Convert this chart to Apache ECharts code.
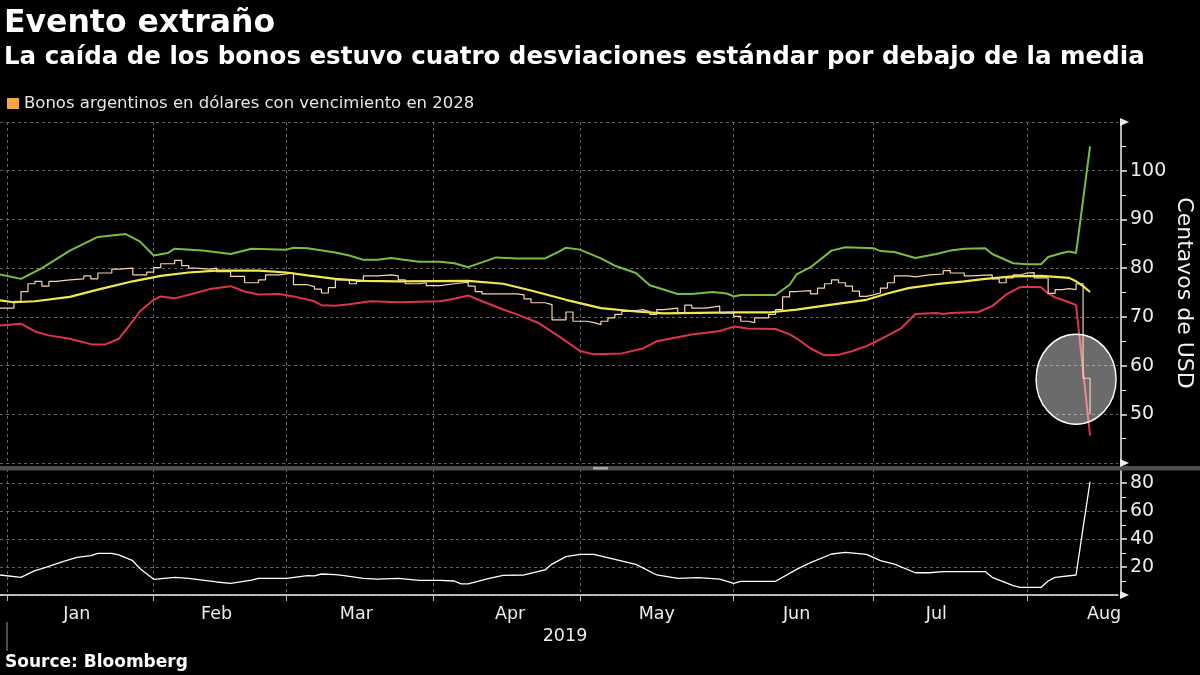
<!DOCTYPE html>
<html>
<head>
<meta charset="utf-8">
<script src="https://cdn.jsdelivr.net/npm/echarts@6/dist/echarts.min.js"></script>
<style>
html,body{margin:0;padding:0;background:#000;}
#chart{width:1200px;height:675px;}
</style>
</head>
<body>
<div id="chart"></div>
<script>
// ---------- DATA ----------
const titleText = 'Evento extraño';
const subtitleText = 'La caída de los bonos estuvo cuatro desviaciones estándar por debajo de la media';
const sourceText = 'Source: Bloomberg';
const priceName = 'Bonos argentinos en dólares con vencimiento en 2028';
const yAxisTitle = 'Centavos de USD';
const yearLabel = '2019';

// trading-day calendar (weekdays minus market holidays)
const calendarStart = '2018-12-31';
const calendarEnd = '2019-08-20';
const holidays = ['2019-01-01','2019-01-21','2019-02-18','2019-04-19','2019-05-27','2019-07-04'];
const monthLabelDates = ['2019-01-16','2019-02-14','2019-03-15','2019-04-16','2019-05-16','2019-06-14','2019-07-15','2019-08-16'];
const monthNames = ['Jan','Feb','Mar','Apr','May','Jun','Jul','Aug'];

const topTicks = {min: 40, max: 110, interval: 10};
const bottomTicks = {min: 0, max: 90, interval: 20};

// bond price (step line)
const price = [
 ['2018-12-31',71.8],['2019-01-03',73.2],['2019-01-04',75.2],['2019-01-07',76.8],['2019-01-08',77.3],
 ['2019-01-09',76.3],['2019-01-10',77.3],['2019-01-11',77.6],['2019-01-15',77.8],['2019-01-17',78.4],
 ['2019-01-18',77.8],['2019-01-22',79.0],['2019-01-24',79.8],['2019-01-25',80.0],['2019-01-29',78.6],
 ['2019-01-31',79.2],['2019-02-01',80.1],['2019-02-04',80.9],['2019-02-06',81.6],['2019-02-07',80.5],
 ['2019-02-08',80.0],['2019-02-11',79.8],['2019-02-13',80.0],['2019-02-14',79.3],['2019-02-19',78.3],
 ['2019-02-21',77.0],['2019-02-25',77.6],['2019-02-26',78.6],['2019-02-28',79.0],['2019-03-04',76.6],
 ['2019-03-06',76.2],['2019-03-07',75.7],['2019-03-08',74.9],['2019-03-11',76.0],['2019-03-12',77.6],
 ['2019-03-14',76.8],['2019-03-15',77.3],['2019-03-18',78.4],['2019-03-20',78.6],['2019-03-22',78.4],
 ['2019-03-25',77.6],['2019-03-26',76.8],['2019-03-28',77.0],['2019-03-29',76.4],['2019-04-02',76.8],
 ['2019-04-04',77.1],['2019-04-08',76.3],['2019-04-09',75.2],['2019-04-10',74.7],['2019-04-17',74.5],
 ['2019-04-18',73.7],['2019-04-22',72.9],['2019-04-24',72.5],['2019-04-25',69.4],['2019-04-29',71.0],
 ['2019-04-30',69.1],['2019-05-02',68.8],['2019-05-03',68.4],['2019-05-06',69.1],['2019-05-07',69.8],
 ['2019-05-08',70.5],['2019-05-09',71.1],['2019-05-10',71.5],['2019-05-14',71.1],['2019-05-15',70.5],
 ['2019-05-16',71.5],['2019-05-17',71.8],['2019-05-21',70.8],['2019-05-22',72.4],['2019-05-23',71.8],
 ['2019-05-28',72.2],['2019-05-30',70.8],['2019-06-03',70.1],['2019-06-04',69.1],['2019-06-05',68.8],
 ['2019-06-06',69.8],['2019-06-10',70.5],['2019-06-11',71.5],['2019-06-12',74.1],['2019-06-13',75.2],
 ['2019-06-14',75.4],['2019-06-18',74.7],['2019-06-19',75.9],['2019-06-20',76.8],['2019-06-21',77.6],
 ['2019-06-24',77.0],['2019-06-25',76.3],['2019-06-26',75.3],['2019-06-27',74.2],['2019-06-28',74.5],
 ['2019-07-01',74.9],['2019-07-02',75.9],['2019-07-03',77.0],['2019-07-05',78.4],['2019-07-09',78.2],
 ['2019-07-10',78.6],['2019-07-12',78.8],['2019-07-16',79.5],['2019-07-17',79.0],['2019-07-19',78.4],
 ['2019-07-22',78.6],['2019-07-25',77.8],['2019-07-26',77.0],['2019-07-29',78.0],['2019-07-30',78.6],
 ['2019-07-31',79.0],['2019-08-01',79.1],['2019-08-02',78.0],['2019-08-06',74.8],['2019-08-07',75.6],
 ['2019-08-08',75.8],['2019-08-09',75.6],['2019-08-12',76.8],['2019-08-13',57.4],['2019-08-14',50.0]
];

// moving average
const movingAvg = [
 ['2018-12-31',73.4],['2019-01-03',73.0],['2019-01-08',73.2],['2019-01-15',74.1],['2019-01-22',75.6],
 ['2019-01-29',77.3],['2019-02-04',78.4],['2019-02-08',79.1],['2019-02-14',79.5],['2019-02-25',79.5],
 ['2019-03-01',79.1],['2019-03-06',78.5],['2019-03-12',77.8],['2019-03-18',77.4],['2019-03-25',77.3],
 ['2019-04-08',77.4],['2019-04-15',76.8],['2019-04-22',75.4],['2019-04-29',73.5],['2019-05-06',71.8],
 ['2019-05-13',71.1],['2019-05-17',70.7],['2019-05-24',70.8],['2019-06-03',70.9],['2019-06-10',70.9],
 ['2019-06-14',71.5],['2019-06-21',72.5],['2019-06-28',73.5],['2019-07-03',74.8],['2019-07-09',75.9],
 ['2019-07-15',76.7],['2019-07-19',77.3],['2019-07-24',77.8],['2019-07-30',78.3],['2019-08-05',78.4],
 ['2019-08-09',78.0],['2019-08-12',77.3],['2019-08-13',76.3],['2019-08-14',75.1]
];

// upper band
const upperBand = [
 ['2018-12-31',78.7],['2019-01-04',77.8],['2019-01-09',80.0],['2019-01-15',83.6],['2019-01-22',86.4],
 ['2019-01-28',87.0],['2019-01-30',85.5],['2019-02-01',82.6],['2019-02-05',83.1],['2019-02-06',84.0],
 ['2019-02-12',83.6],['2019-02-19',82.9],['2019-02-22',84.0],['2019-03-01',83.8],['2019-03-04',84.2],
 ['2019-03-06',84.1],['2019-03-12',83.2],['2019-03-14',82.6],['2019-03-18',81.7],['2019-03-20',81.7],
 ['2019-03-22',82.1],['2019-03-25',81.9],['2019-03-28',81.3],['2019-04-02',81.3],['2019-04-04',81.0],
 ['2019-04-08',80.2],['2019-04-11',81.7],['2019-04-12',82.2],['2019-04-17',82.0],['2019-04-24',82.0],
 ['2019-04-26',83.4],['2019-04-29',84.2],['2019-05-01',83.8],['2019-05-06',82.0],['2019-05-08',80.5],
 ['2019-05-13',79.0],['2019-05-15',76.5],['2019-05-21',74.7],['2019-05-23',74.7],['2019-05-29',75.1],
 ['2019-05-31',74.8],['2019-06-03',74.2],['2019-06-04',74.5],['2019-06-11',74.5],['2019-06-13',76.6],
 ['2019-06-14',78.7],['2019-06-18',80.2],['2019-06-21',83.6],['2019-06-25',84.3],['2019-07-01',84.1],
 ['2019-07-02',83.5],['2019-07-05',83.3],['2019-07-10',82.1],['2019-07-15',82.9],['2019-07-17',83.6],
 ['2019-07-19',84.0],['2019-07-24',84.1],['2019-07-25',82.9],['2019-07-30',81.0],['2019-08-01',80.8],
 ['2019-08-05',80.8],['2019-08-06',82.3],['2019-08-08',83.1],['2019-08-09',83.4],['2019-08-12',83.1],
 ['2019-08-13',94.0],['2019-08-14',105.0]
];

// lower band
const lowerBand = [
 ['2018-12-31',68.2],['2019-01-04',68.6],['2019-01-08',67.0],['2019-01-10',66.2],['2019-01-15',65.5],
 ['2019-01-18',64.4],['2019-01-23',64.3],['2019-01-25',65.5],['2019-01-29',69.1],['2019-01-30',71.1],
 ['2019-02-01',73.5],['2019-02-04',74.2],['2019-02-06',73.8],['2019-02-11',74.9],['2019-02-13',75.7],
 ['2019-02-19',76.3],['2019-02-21',75.2],['2019-02-25',74.6],['2019-02-28',74.7],['2019-03-04',74.2],
 ['2019-03-07',73.2],['2019-03-08',72.4],['2019-03-12',72.3],['2019-03-14',72.6],['2019-03-19',73.2],
 ['2019-03-25',73.0],['2019-04-02',73.2],['2019-04-04',73.7],['2019-04-08',74.4],['2019-04-10',73.2],
 ['2019-04-15',71.5],['2019-04-17',70.5],['2019-04-23',68.8],['2019-04-26',66.0],['2019-05-01',63.0],
 ['2019-05-03',62.3],['2019-05-09',62.5],['2019-05-14',63.5],['2019-05-16',65.0],['2019-05-23',66.4],
 ['2019-05-30',67.1],['2019-06-03',68.0],['2019-06-05',67.6],['2019-06-11',67.5],['2019-06-13',66.4],
 ['2019-06-14',65.6],['2019-06-18',63.5],['2019-06-20',62.1],['2019-06-24',62.2],['2019-06-26',63.0],
 ['2019-06-28',64.0],['2019-07-02',65.4],['2019-07-08',67.7],['2019-07-10',70.6],['2019-07-15',70.8],
 ['2019-07-16',70.6],['2019-07-17',70.8],['2019-07-23',71.0],['2019-07-25',72.2],['2019-07-29',74.6],
 ['2019-07-31',76.1],['2019-08-01',76.2],['2019-08-05',76.1],['2019-08-06',74.8],['2019-08-07',74.0],
 ['2019-08-08',73.5],['2019-08-09',73.0],['2019-08-12',72.4],['2019-08-13',59.0],['2019-08-14',45.6]
];

// lower panel indicator
const lowerPanel = [
 ['2018-12-31',14.3],['2019-01-04',12.6],['2019-01-08',17.4],['2019-01-09',18.8],['2019-01-14',23.8],
 ['2019-01-16',26.9],['2019-01-18',28.1],['2019-01-22',29.8],['2019-01-24',29.8],['2019-01-25',28.6],
 ['2019-01-29',24.5],['2019-01-30',19.0],['2019-02-01',11.2],['2019-02-06',12.6],['2019-02-08',11.9],
 ['2019-02-14',9.3],['2019-02-19',8.3],['2019-02-22',10.7],['2019-02-25',11.9],['2019-03-01',11.9],
 ['2019-03-06',13.8],['2019-03-07',13.6],['2019-03-08',15.0],['2019-03-12',14.5],['2019-03-13',14.0],
 ['2019-03-18',11.9],['2019-03-20',11.4],['2019-03-25',11.9],['2019-03-28',10.5],['2019-04-02',10.5],
 ['2019-04-04',10.0],['2019-04-05',7.9],['2019-04-08',7.9],['2019-04-11',11.9],['2019-04-15',14.0],
 ['2019-04-18',14.3],['2019-04-24',17.9],['2019-04-25',22.1],['2019-04-29',27.4],['2019-05-01',29.0],
 ['2019-05-03',29.0],['2019-05-08',25.5],['2019-05-13',21.9],['2019-05-16',14.3],['2019-05-21',11.9],
 ['2019-05-24',12.4],['2019-05-30',11.4],['2019-06-03',8.3],['2019-06-04',9.8],['2019-06-11',9.8],
 ['2019-06-14',18.3],['2019-06-18',23.1],['2019-06-21',29.3],['2019-06-25',30.5],['2019-06-28',29.0],
 ['2019-07-02',24.5],['2019-07-05',22.1],['2019-07-10',15.9],['2019-07-12',15.9],['2019-07-16',16.7],
 ['2019-07-24',16.7],['2019-07-25',12.6],['2019-07-30',6.7],['2019-07-31',5.5],['2019-08-05',5.5],
 ['2019-08-06',10.0],['2019-08-07',12.6],['2019-08-12',14.3],['2019-08-13',48.0],['2019-08-14',80.9]
];

// highlighted event (circle)
const highlight = {date: '2019-08-12', value: 57.2};

// ---------- build categories ----------
const categories = [];
(function () {
  let t = Date.parse(calendarStart + 'T00:00:00Z');
  const end = Date.parse(calendarEnd + 'T00:00:00Z');
  while (t <= end) {
    const d = new Date(t);
    const wd = d.getUTCDay();
    const s = d.toISOString().slice(0, 10);
    if (wd !== 0 && wd !== 6 && holidays.indexOf(s) < 0) categories.push(s);
    t += 86400000;
  }
})();
function isMonthStart(idx) {
  if (idx === 0) return false;
  return categories[idx].slice(5, 7) !== categories[idx - 1].slice(5, 7);
}
function isMonthLabel(idx, value) { return monthLabelDates.indexOf(value) >= 0; }
function monthName(value) { return monthNames[parseInt(value.slice(5, 7), 10) - 1]; }

// ---------- chart ----------
const FONT = '"DejaVu Sans", "Liberation Sans", sans-serif';
const gridColor = '#646464';
const chart = echarts.init(document.getElementById('chart'), null, {renderer: 'canvas'});

const option = {
  backgroundColor: '#000',
  animation: false,
  legend: {
    data: [priceName],
    left: 7, top: 95, padding: 0,
    icon: 'rect', itemWidth: 12, itemHeight: 11, itemGap: 10,
    textStyle: {color: '#e6e6e6', fontSize: 16.5, fontFamily: FONT},
    selectedMode: false
  },
  grid: [
    {left: 0, right: 82, top: 122, height: 341},
    {left: 0, right: 82, top: 469, height: 126}
  ],
  xAxis: [
    {
      type: 'category', gridIndex: 0, data: categories, boundaryGap: false,
      axisLine: {show: false}, axisTick: {show: false}, axisLabel: {show: false},
      splitLine: {show: true, interval: isMonthStart, lineStyle: {color: gridColor, type: [3, 3], width: 1}}
    },
    {
      type: 'category', gridIndex: 1, data: categories, boundaryGap: false, offset: 4,
      axisLine: {show: true, lineStyle: {color: '#f0f0f0', width: 1.5}},
      axisTick: {show: true, interval: isMonthStart, length: 6, lineStyle: {color: '#bbbbbb', width: 1}},
      axisLabel: {show: true, interval: isMonthLabel, formatter: monthName, color: '#ececec',
        fontSize: 17.5, fontFamily: FONT, margin: 6},
      splitLine: {show: true, interval: isMonthStart, lineStyle: {color: gridColor, type: [3, 3], width: 1}}
    }
  ],
  yAxis: [
    {
      type: 'value', gridIndex: 0, position: 'right', offset: 3,
      min: topTicks.min, max: topTicks.max, interval: topTicks.interval,
      axisLine: {show: true, lineStyle: {color: '#f0f0f0', width: 1.5}},
      axisTick: {show: true, length: 6, lineStyle: {color: '#f0f0f0', width: 1.5}},
      minorTick: {show: true, splitNumber: 2, length: 5, lineStyle: {color: '#f0f0f0', width: 1}},
      axisLabel: {show: true, showMinLabel: false, showMaxLabel: false, color: '#ececec',
        fontSize: 19, fontFamily: FONT, margin: 9},
      splitLine: {show: true, lineStyle: {color: gridColor, type: [3, 3], width: 1}}
    },
    {
      type: 'value', gridIndex: 1, position: 'right', offset: 3,
      min: bottomTicks.min, max: bottomTicks.max, interval: bottomTicks.interval,
      axisLine: {show: true, lineStyle: {color: '#f0f0f0', width: 1.5}},
      axisTick: {show: true, length: 6, lineStyle: {color: '#f0f0f0', width: 1.5}},
      minorTick: {show: true, splitNumber: 2, length: 5, lineStyle: {color: '#f0f0f0', width: 1}},
      axisLabel: {show: true, showMinLabel: false, showMaxLabel: false, color: '#ececec',
        fontSize: 19, fontFamily: FONT, margin: 9},
      splitLine: {show: true, lineStyle: {color: gridColor, type: [3, 3], width: 1}}
    }
  ],
  series: [
    {
      name: 'Banda superior', type: 'line', xAxisIndex: 0, yAxisIndex: 0, data: upperBand,
      showSymbol: false, z: 2, lineStyle: {color: '#78bf3f', width: 2}, itemStyle: {color: '#78bf3f'}
    },
    {
      name: 'Banda inferior', type: 'line', xAxisIndex: 0, yAxisIndex: 0, data: lowerBand,
      showSymbol: false, z: 2, lineStyle: {color: '#e0344c', width: 2}, itemStyle: {color: '#e0344c'},
      markPoint: {
        z: 5, silent: true, symbol: 'circle', symbolSize: [80, 90],
        label: {show: false},
        itemStyle: {color: 'rgba(255,255,255,0.42)', borderColor: '#ffffff', borderWidth: 1.5},
        data: [{coord: [highlight.date, highlight.value]}]
      }
    },
    {
      name: 'Media móvil', type: 'line', xAxisIndex: 0, yAxisIndex: 0, data: movingAvg,
      showSymbol: false, z: 3, lineStyle: {color: '#f1e84c', width: 2.2}, itemStyle: {color: '#f1e84c'}
    },
    {
      name: priceName, type: 'line', xAxisIndex: 0, yAxisIndex: 0, data: price, step: 'end',
      showSymbol: false, z: 6, lineStyle: {color: '#f5d4ae', width: 1.2}, itemStyle: {color: '#f7a540'}
    },
    {
      name: 'Indicador', type: 'line', xAxisIndex: 1, yAxisIndex: 1, data: lowerPanel,
      showSymbol: false, z: 2, lineStyle: {color: '#ffffff', width: 1.3}, itemStyle: {color: '#ffffff'}
    }
  ],
  graphic: [
    {type: 'text', x: 4, y: 24, z: 100, style: {text: titleText, fill: '#ffffff',
      font: 'bold 31.5px ' + FONT, align: 'left', verticalAlign: 'middle'}},
    {type: 'text', x: 4, y: 58, z: 100, style: {text: subtitleText, fill: '#ffffff',
      font: 'bold 24.5px ' + FONT, align: 'left', verticalAlign: 'middle'}},
    {type: 'text', x: 5, y: 663, z: 100, style: {text: sourceText, fill: '#ffffff',
      font: 'bold 17px ' + FONT, align: 'left', verticalAlign: 'middle'}},
    {type: 'text', x: 565, y: 636, z: 100, style: {text: yearLabel, fill: '#ececec',
      font: '17.5px ' + FONT, align: 'center', verticalAlign: 'middle'}},
    {type: 'text', x: 1184, y: 293, rotation: -Math.PI / 2, z: 100, style: {text: yAxisTitle, fill: '#f2f2f2',
      font: '22px ' + FONT, align: 'center', verticalAlign: 'middle'}},
    {type: 'line', z: 100, shape: {x1: 7, y1: 622, x2: 7, y2: 651}, style: {stroke: '#9a9a9a', lineWidth: 1}},
    {type: 'rect', z: 100, shape: {x: 0, y: 466, width: 1200, height: 4.5}, style: {fill: '#4e4e4e'}},
    {type: 'rect', z: 101, shape: {x: 593, y: 467, width: 15, height: 2.5}, style: {fill: '#a8a8a8'}},
    {type: 'polygon', z: 100, shape: {points: [[1120, 118], [1129, 122], [1120, 126]]}, style: {fill: '#f0f0f0'}},
    {type: 'polygon', z: 100, shape: {points: [[1120, 459], [1129, 463], [1120, 467]]}, style: {fill: '#f0f0f0'}},
    {type: 'polygon', z: 100, shape: {points: [[1120, 591], [1129, 595], [1120, 599]]}, style: {fill: '#f0f0f0'}}
  ]
};
chart.setOption(option);
</script>
</body>
</html>
